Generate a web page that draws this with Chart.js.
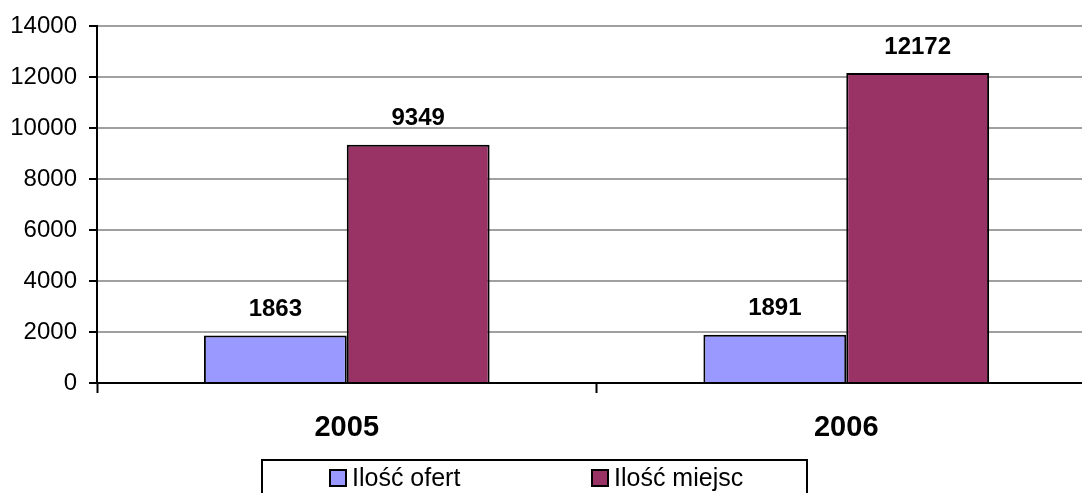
<!DOCTYPE html>
<html>
<head>
<meta charset="utf-8">
<script src="https://cdn.jsdelivr.net/npm/chart.js@4"></script>
<style>
  html, body { margin: 0; padding: 0; background: #fff; overflow: hidden; }
  #wrap { width: 1100px; height: 493px; }
</style>
</head>
<body>
<div id="wrap"><canvas id="chart" width="1100" height="493"></canvas></div>
<script>
// dane z wykresu
const years = ['2005', '2006'];
const oferty = [1863, 1891];
const miejsca = [9349, 12172];
const seriesNames = ['Ilość ofert', 'Ilość miejsc'];
const colors = ['#9999ff', '#993366'];

const FONT = '"Liberation Sans", Arial, sans-serif';

// etykiety wartości nad słupkami
const valueLabels = {
    id: 'valueLabels',
    afterDatasetsDraw(chart) {
        const ctx = chart.ctx;
        ctx.save();
        ctx.font = 'bold 24px ' + FONT;
        ctx.fillStyle = '#000';
        ctx.textAlign = 'center';
        ctx.textBaseline = 'bottom';
        chart.data.datasets.forEach((ds, i) => {
            chart.getDatasetMeta(i).data.forEach((bar, j) => {
                ctx.fillText(String(ds.data[j]), bar.x, bar.y - 14);
            });
        });
        ctx.restore();
    }
};

// legenda w ramce pod wykresem
const boxLegend = {
    id: 'boxLegend',
    afterDraw(chart) {
        const ctx = chart.ctx;
        ctx.save();
        ctx.strokeStyle = '#000';
        ctx.lineWidth = 2;
        ctx.strokeRect(262, 460, 545, 60);
        ctx.font = '25px ' + FONT;
        ctx.textBaseline = 'middle';
        ctx.textAlign = 'left';
        const xs = [330, 592];
        chart.data.datasets.forEach((ds, i) => {
            ctx.fillStyle = ds.backgroundColor;
            ctx.fillRect(xs[i], 470, 16, 16);
            ctx.strokeRect(xs[i], 470, 16, 16);
            ctx.fillStyle = '#000';
            ctx.fillText(ds.label, xs[i] + 22, 479);
        });
        ctx.restore();
    }
};

new Chart(document.getElementById('chart'), {
    type: 'bar',
    data: {
        labels: years,
        datasets: [
            { label: seriesNames[0], data: oferty, backgroundColor: colors[0], borderColor: '#000', borderWidth: 2 },
            { label: seriesNames[1], data: miejsca, backgroundColor: colors[1], borderColor: '#000', borderWidth: 2 }
        ]
    },
    options: {
        responsive: false,
        animation: false,
        layout: { padding: { top: 24, right: 4, left: 0, bottom: 0 } },
        datasets: { bar: { categoryPercentage: 0.572, barPercentage: 1 } },
        plugins: { legend: { display: false }, tooltip: { enabled: false } },
        scales: {
            x: {
                grid: { drawOnChartArea: false, tickColor: '#000', tickLength: 10, tickWidth: 2, offset: true },
                border: { color: '#000', width: 2 },
                ticks: { color: '#000', font: { family: FONT, size: 29, weight: 'bold' }, padding: 18 },
                afterFit(scale) { scale.height = 110; }
            },
            y: {
                min: 0,
                max: 14000,
                ticks: {
                    stepSize: 2000, color: '#000', font: { family: FONT, size: 24 }, padding: 12,
                    callback: v => String(v)
                },
                grid: { color: '#a0a0a0', lineWidth: 2, tickColor: '#000', tickLength: 8, tickWidth: 2 },
                border: { color: '#000', width: 2 },
                afterFit(scale) { scale.width = 97; }
            }
        }
    },
    plugins: [valueLabels, boxLegend]
});
</script>
</body>
</html>
